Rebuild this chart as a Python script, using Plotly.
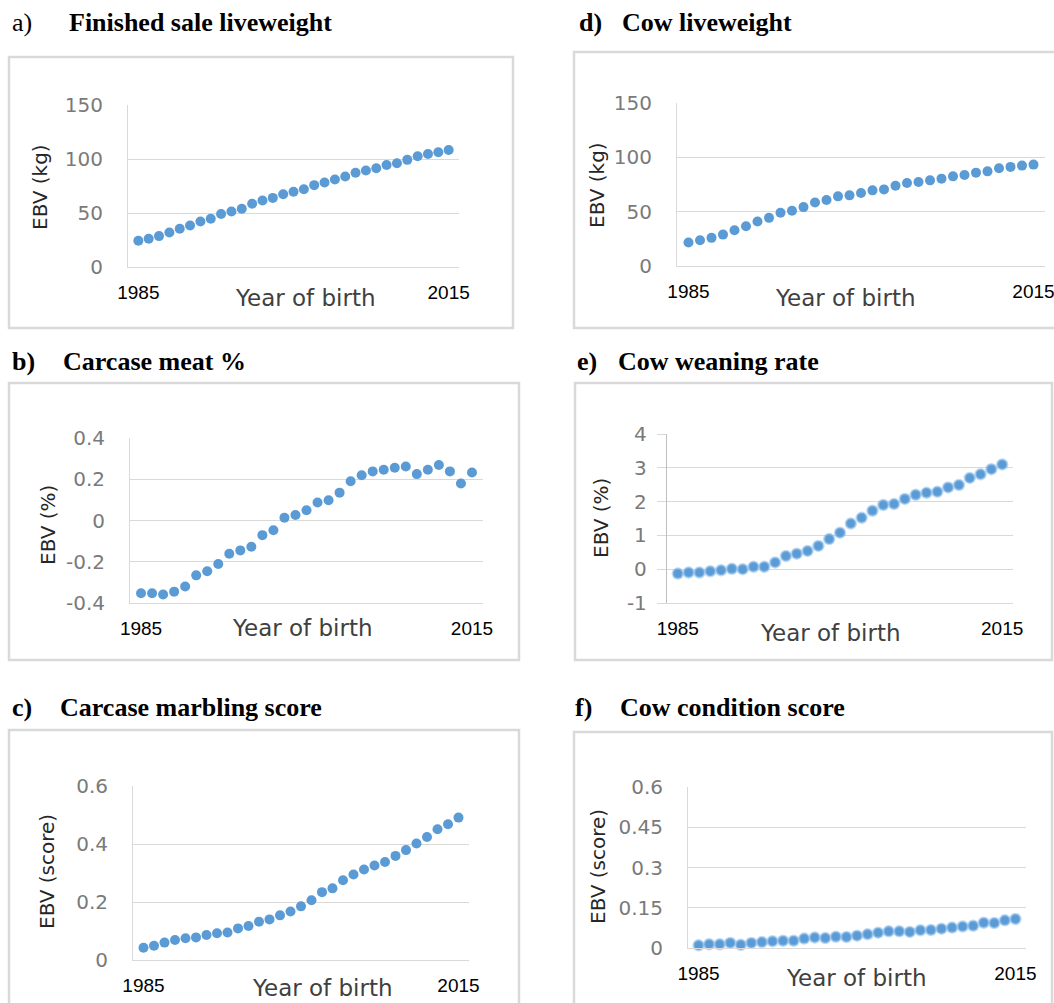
import plotly.graph_objects as go

W, H = 1054, 1003

years = list(range(1985, 2016))

finished_sale_lw = [24.3, 26.2, 28.6, 32.0, 35.4, 38.5, 42.2, 44.7, 49.0, 51.4, 53.9, 58.5, 61.6, 64.0,
                    67.4, 69.6, 72.0, 75.8, 78.2, 81.0, 83.8, 87.2, 89.3, 91.5, 94.5, 96.1, 99.2, 102.6,
                    104.7, 106.3, 108.4]
carcase_meat = [-0.353, -0.353, -0.359, -0.345, -0.320, -0.266, -0.246, -0.211, -0.161, -0.145, -0.127,
                -0.071, -0.047, 0.013, 0.027, 0.050, 0.087, 0.098, 0.135, 0.190, 0.219, 0.238, 0.246,
                0.256, 0.262, 0.225, 0.246, 0.269, 0.238, 0.179, 0.233]
carcase_marbling = [0.042, 0.049, 0.060, 0.069, 0.075, 0.078, 0.086, 0.092, 0.095, 0.109, 0.117, 0.132,
                    0.140, 0.154, 0.167, 0.185, 0.206, 0.234, 0.247, 0.275, 0.295, 0.312, 0.326, 0.338,
                    0.359, 0.379, 0.402, 0.424, 0.451, 0.468, 0.491]
cow_lw = [21.6, 23.7, 25.9, 28.9, 32.9, 36.6, 41.0, 44.3, 49.0, 50.8, 54.2, 58.5, 60.7, 64.1, 65.0, 67.1,
          69.6, 70.5, 73.9, 76.4, 77.3, 78.8, 80.4, 82.5, 83.8, 85.9, 87.1, 89.9, 91.2, 92.4, 93.3]
cow_weaning = [-0.13, -0.10, -0.10, -0.06, -0.03, 0.01, 0.00, 0.07, 0.07, 0.20, 0.39, 0.46, 0.54, 0.69,
               0.89, 1.08, 1.35, 1.52, 1.73, 1.90, 1.93, 2.08, 2.20, 2.26, 2.29, 2.42, 2.49, 2.70, 2.81,
               2.96, 3.10]
cow_condition = [0.010, 0.014, 0.014, 0.019, 0.012, 0.019, 0.022, 0.025, 0.027, 0.027, 0.035, 0.039,
                 0.037, 0.042, 0.041, 0.046, 0.051, 0.057, 0.062, 0.062, 0.060, 0.066, 0.067, 0.072,
                 0.076, 0.080, 0.083, 0.094, 0.093, 0.103, 0.108]

x_tick_vals = [1985, 2015]
x_tick_text = ["1985", "2015"]
kg_ticks = [0, 50, 100, 150]
meat_ticks = [-0.4, -0.2, 0, 0.2, 0.4]
meat_tick_text = ["-0.4", "-0.2", "0", "0.2", "0.4"]
marbling_ticks = [0, 0.2, 0.4, 0.6]
weaning_ticks = [-1, 0, 1, 2, 3, 4]
weaning_tick_text = ["-1", "0", "1", "2", "3", "4"]
condition_ticks = [0, 0.15, 0.3, 0.45, 0.6]
condition_tick_text = ["0", "0.15", "0.3", "0.45", "0.6"]

panels = [
    dict(letter="a)", letter_bold=False, title="Finished sale liveweight", lx=10, tx=67, ty=22,
         box=(9, 57, 513, 328), plot=(128, 105, 459, 267), y=finished_sale_lw, yr=[0, 150],
         tv=kg_ticks, tt=[str(v) for v in kg_ticks], ytitle="EBV (kg)", ytp=(40, 187), xlp=(305, 298),
         glow=False, dark_axis=False),
    dict(letter="b)", letter_bold=True, title="Carcase meat %", lx=10, tx=61, ty=361,
         box=(9, 383, 519, 660), plot=(130, 438, 483, 603), y=carcase_meat, yr=[-0.4, 0.4],
         tv=meat_ticks, tt=meat_tick_text, ytitle="EBV (%)", ytp=(48, 525), xlp=(302, 628),
         glow=False, dark_axis=False),
    dict(letter="c)", letter_bold=True, title="Carcase marbling score", lx=10, tx=58, ty=707,
         box=(9, 730, 519, 1012), plot=(133, 786, 469, 960), y=carcase_marbling, yr=[0, 0.6],
         tv=marbling_ticks, tt=["0", "0.2", "0.4", "0.6"], ytitle="EBV (score)", ytp=(47, 872),
         xlp=(322, 988), glow=False, dark_axis=False),
    dict(letter="d)", letter_bold=True, title="Cow liveweight", lx=577, tx=620, ty=22,
         box=(574, 52, 1062, 328), plot=(677, 103, 1045, 266), y=cow_lw, yr=[0, 150],
         tv=kg_ticks, tt=[str(v) for v in kg_ticks], ytitle="EBV (kg)", ytp=(597, 185), xlp=(845, 298),
         glow=False, dark_axis=False),
    dict(letter="e)", letter_bold=True, title="Cow weaning rate", lx=575, tx=616, ty=361,
         box=(575, 383, 1052, 660), plot=(667, 434, 1013, 603), y=cow_weaning, yr=[-1, 4],
         tv=weaning_ticks, tt=weaning_tick_text, ytitle="EBV (%)", ytp=(601, 518), xlp=(830, 633),
         glow=True, dark_axis=True),
    dict(letter="f)", letter_bold=True, title="Cow condition score", lx=573, tx=618, ty=707,
         box=(574, 732, 1052, 1012), plot=(688, 787, 1026, 948), y=cow_condition, yr=[0, 0.6],
         tv=condition_ticks, tt=condition_tick_text, ytitle="EBV (score)", ytp=(598, 867),
         xlp=(856, 978), glow=True, dark_axis=False),
]


def px(x):
    return x / W


def py(y):
    return 1 - y / H


SERIF = "Liberation Serif, Times New Roman, serif"
SANS = "DejaVu Sans, sans-serif"
NARROW = "Liberation Sans Narrow, Arial Narrow, Liberation Sans, sans-serif"
BLUE = "#5B9BD5"
GRID = "#D9D9D9"

fig = go.Figure()
shapes = []
annotations = []
layout_axes = {}

for i, p in enumerate(panels):
    n = i + 1
    xa = "x" if n == 1 else f"x{n}"
    ya = "y" if n == 1 else f"y{n}"
    xkey = "xaxis" if n == 1 else f"xaxis{n}"
    ykey = "yaxis" if n == 1 else f"yaxis{n}"

    bx0, by0, bx1, by1 = p["box"]
    shapes.append(dict(type="rect", xref="paper", yref="paper", x0=px(bx0), x1=px(bx1),
                       y0=py(by1), y1=py(by0), line=dict(color=GRID, width=2.5),
                       fillcolor="white", layer="below"))

    marker = dict(color=BLUE, size=10)
    if p["glow"]:
        marker["line"] = dict(color="rgba(140,190,235,0.55)", width=2.5)
    else:
        marker["line"] = dict(width=0)
    fig.add_trace(go.Scatter(x=years, y=p["y"], mode="markers", marker=marker,
                             xaxis=xa, yaxis=ya, showlegend=False, cliponaxis=False))

    x0, y0, x1, y1 = p["plot"]
    layout_axes[xkey] = dict(
        domain=[px(x0), px(x1)], range=[1984, 2016], anchor=ya, automargin=False,
        tickvals=x_tick_vals, ticktext=x_tick_text, showgrid=False, zeroline=False,
        showline=True, linecolor=GRID, linewidth=1, ticks="",
        tickfont=dict(family=NARROW, size=19, color="#000000"), ticklabelstandoff=8,
        ticklabeloverflow="allow", fixedrange=True,
    )
    yax = dict(
        domain=[py(y1), py(y0)], range=p["yr"], anchor=xa, automargin=False,
        tickvals=p["tv"], ticktext=p["tt"], showgrid=True, gridcolor=GRID, gridwidth=1,
        zeroline=False, tickfont=dict(family=SANS, size=20, color="#7a7a7a"),
        ticklabeloverflow="allow", fixedrange=True,
    )
    if p["dark_axis"]:
        yax.update(showline=True, linecolor="#BFBFBF", linewidth=1.3, ticks="outside",
                   ticklen=9, tickcolor=GRID, tickwidth=1, ticklabelstandoff=6)
    else:
        yax.update(showline=True, linecolor=GRID, linewidth=1, ticks="", ticklabelstandoff=20)
    layout_axes[ykey] = yax

    letter_text = f"<b>{p['letter']}</b>" if p["letter_bold"] else p["letter"]
    annotations.append(dict(text=letter_text, x=px(p["lx"]), y=py(p["ty"]), xref="paper", yref="paper",
                            xanchor="left", yanchor="middle", showarrow=False,
                            font=dict(family=SERIF, size=26, color="#000000")))
    annotations.append(dict(text=f"<b>{p['title']}</b>", x=px(p["tx"]), y=py(p["ty"]), xref="paper",
                            yref="paper", xanchor="left", yanchor="middle", showarrow=False,
                            font=dict(family=SERIF, size=26, color="#000000")))
    annotations.append(dict(text=p["ytitle"], x=px(p["ytp"][0]), y=py(p["ytp"][1]), xref="paper",
                            yref="paper", xanchor="center", yanchor="middle", textangle=-90,
                            showarrow=False, font=dict(family=SANS, size=20, color="#262626")))
    annotations.append(dict(text="Year of birth", x=px(p["xlp"][0]), y=py(p["xlp"][1]), xref="paper",
                            yref="paper", xanchor="center", yanchor="middle", showarrow=False,
                            font=dict(family=SANS, size=23, color="#404040")))

fig.update_layout(
    width=W, height=H, margin=dict(l=0, r=0, t=0, b=0, autoexpand=False),
    paper_bgcolor="white", plot_bgcolor="rgba(0,0,0,0)",
    shapes=shapes, annotations=annotations, showlegend=False,
    **layout_axes,
)

fig.write_html("out.html", config={"displayModeBar": False},
               post_script="document.body.style.margin='0';document.body.style.overflow='hidden';")
